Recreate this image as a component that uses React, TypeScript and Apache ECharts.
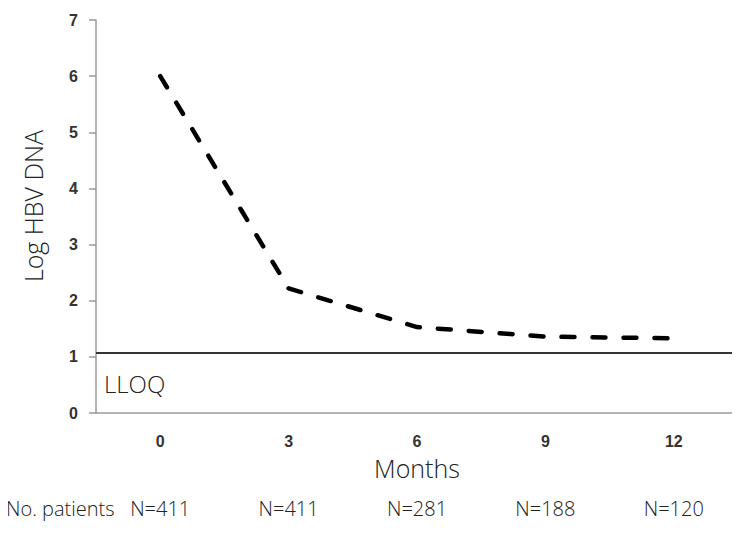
import React, { useEffect, useRef } from "react";
import * as echarts from "echarts";

const months = ["0", "3", "6", "9", "12"];
const logHbvDna = [6.0, 2.22, 1.53, 1.36, 1.33];
const patients = [411, 411, 281, 188, 120];
const lloq = 1.08;
const yTicks = { min: 0, max: 7, interval: 1 };

const LIGHT_FONT = "'Open Sans', 'Noto Sans', sans-serif";
const TICK_FONT = "'Liberation Sans', Arial, sans-serif";

export default function App() {
  const ref = useRef<HTMLDivElement>(null);
  useEffect(() => {
    if (!ref.current) return;
    const chart = echarts.init(ref.current, undefined, { renderer: "svg" });
    chart.setOption({
      animation: false,
      backgroundColor: "#ffffff",
      grid: { left: 96, top: 20, right: 2, bottom: 120, containLabel: false },
      xAxis: [
        {
          type: "category",
          data: months,
          boundaryGap: true,
          axisLine: { show: true, lineStyle: { color: "#9a9a9a", width: 1.5 } },
          axisTick: { show: false },
          axisLabel: {
            margin: 20,
            fontFamily: TICK_FONT,
            fontWeight: "bold",
            fontSize: 16,
            color: "#333",
          },
          name: "Months",
          nameLocation: "middle",
          nameGap: 42,
          nameTextStyle: {
            fontFamily: LIGHT_FONT,
            fontWeight: 300,
            fontSize: 25,
            color: "#222",
          },
          splitLine: { show: false },
        },
        {
          type: "category",
          data: months,
          position: "bottom",
          offset: 77,
          boundaryGap: true,
          axisLine: { show: false },
          axisTick: { show: false },
          axisLabel: {
            margin: 8,
            fontFamily: LIGHT_FONT,
            fontWeight: 300,
            fontSize: 20,
            color: "#222",
            formatter: (_v: string, i: number) => `N=${patients[i]}`,
          },
          splitLine: { show: false },
        },
      ],
      yAxis: {
        type: "value",
        min: yTicks.min,
        max: yTicks.max,
        interval: yTicks.interval,
        axisLine: { show: true, lineStyle: { color: "#9a9a9a", width: 1.5 } },
        axisTick: { show: true, length: 7, lineStyle: { color: "#9a9a9a", width: 1.5 } },
        axisLabel: {
          margin: 18,
          fontFamily: TICK_FONT,
          fontWeight: "bold",
          fontSize: 16,
          color: "#333",
        },
        splitLine: { show: false },
      },
      graphic: [
        {
          type: "text",
          x: 33,
          y: 206,
          rotation: Math.PI / 2,
          style: {
            text: "Log HBV DNA",
            fontFamily: LIGHT_FONT,
            fontWeight: 300,
            fontSize: 25,
            fill: "#222",
            align: "center",
            verticalAlign: "middle",
          },
        },
        {
          type: "text",
          x: 104,
          y: 383,
          style: {
            text: "LLOQ",
            fontFamily: LIGHT_FONT,
            fontWeight: 300,
            fontSize: 24,
            fill: "#222",
            align: "left",
            verticalAlign: "middle",
          },
        },
        {
          type: "text",
          x: 6,
          y: 508,
          style: {
            text: "No. patients",
            fontFamily: LIGHT_FONT,
            fontWeight: 300,
            fontSize: 20,
            fill: "#222",
            align: "left",
            verticalAlign: "middle",
          },
        },
      ],
      series: [
        {
          type: "line",
          data: logHbvDna,
          symbol: "none",
          smooth: false,
          lineStyle: { color: "#000", width: 4.5, type: [13, 18], cap: "round" },
          markLine: {
            silent: true,
            symbol: "none",
            label: { show: false },
            lineStyle: { color: "#333", width: 2, type: "solid" },
            data: [{ yAxis: lloq }],
          },
        },
      ],
    });
    return () => chart.dispose();
  }, []);
  return <div ref={ref} style={{ width: 740, height: 533, margin: -8 }} />;
}
